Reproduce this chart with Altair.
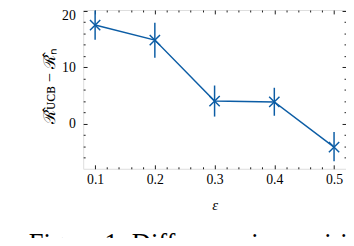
import altair as alt
import pandas as pd

# data
eps = [0.1, 0.2, 0.3, 0.4, 0.5]
diff_mean = [17.5, 14.85, 4.05, 3.9, -4.1]
diff_lo = [14.9, 11.7, 1.3, 1.45, -6.6]
diff_hi = [20.1, 17.9, 6.8, 6.4, -1.45]

x_major = [0.1, 0.2, 0.3, 0.4, 0.5]
x_minor = [0.12, 0.14, 0.16, 0.18, 0.22, 0.24, 0.26, 0.28,
           0.32, 0.34, 0.36, 0.38, 0.42, 0.44, 0.46, 0.48]
y_major = [0, 10, 20]
y_minor = [-6, -4, -2, 2, 4, 6, 8, 12, 14, 16, 18]

x_domain = [0.08, 0.52]
y_domain = [-7.94, 20.17]

x_title = "ε"
y_title = "ℛ̂ᴜᴄʙ − ℛ̂ₙ"
caption = "Figure 1: Difference in empirical regret"

df = pd.DataFrame({"eps": eps, "mean": diff_mean, "lo": diff_lo, "hi": diff_hi})

BLUE = "#0C5DA5"
FONT = "Liberation Serif"
MAJ = 4
MIN = 2

xs = alt.Scale(domain=x_domain, nice=False, zero=False)
ys = alt.Scale(domain=y_domain, nice=False, zero=False)


def ax(orient, values, size, **kw):
    base = dict(orient=orient, values=values, tickSize=size, offset=-size,
                domain=False, grid=False, tickColor="black", tickWidth=0.9)
    base.update(kw)
    if "labels" not in base:
        base["labels"] = False
    if "title" not in base:
        base["title"] = None
    return alt.Axis(**base)


lab = dict(labels=True, labelFont=FONT, labelFontSize=14, labelColor="black")

line = alt.Chart(df).mark_line(color=BLUE, strokeWidth=1.5).encode(
    x=alt.X("eps:Q", scale=xs, axis=ax("bottom", x_major, MAJ, labelPadding=3.5,
                                         format=".1f", title=x_title,
                                         titleFont=FONT, titleFontSize=15,
                                         titleFontStyle="italic", titleFontWeight="normal",
                                         titleColor="black", titlePadding=12, **lab)),
    y=alt.Y("mean:Q", scale=ys, axis=ax("left", y_major, MAJ, labelPadding=8,
                                          labelFlush=5, labelFlushOffset=2.5,
                                          title=y_title, titleFont=FONT, titleFontSize=16.5,
                                          titleFontWeight="normal", titleColor="black",
                                          titleAngle=270, titleBaseline="bottom",
                                          titleAlign="center", titleX=-30.5, titleY=77,
                                          **lab)),
)

bars = alt.Chart(df).mark_rule(color=BLUE, strokeWidth=1.5).encode(
    x=alt.X("eps:Q", scale=xs, axis=ax("top", x_major, MAJ)),
    y=alt.Y("lo:Q", scale=ys, axis=ax("right", y_major, MAJ)),
    y2="hi:Q",
)

marks = alt.Chart(df).mark_point(shape="M-1,-1L1,1M-1,1L1,-1", size=110, filled=False,
                                 strokeWidth=1.5, color=BLUE, opacity=1).encode(
    x=alt.X("eps:Q", scale=xs, axis=ax("bottom", x_minor, MIN)),
    y=alt.Y("mean:Q", scale=ys, axis=ax("left", y_minor, MIN)),
)

ghost = alt.Chart(df).mark_point(opacity=0).encode(
    x=alt.X("eps:Q", scale=xs, axis=ax("top", x_minor, MIN)),
    y=alt.Y("mean:Q", scale=ys, axis=ax("right", y_minor, MIN)),
)

chart = alt.layer(line, bars, marks, ghost).resolve_axis(
    x="independent", y="independent"
).properties(
    width=267.5,
    height=161.6,
    autosize=alt.AutoSizeParams(type="none"),
    padding={"left": 76.5, "top": 0, "right": 0, "bottom": 68},
    title=alt.TitleParams(text=caption, orient="bottom", anchor="start", frame="group",
                          offset=19, dx=-55.5, font=FONT, fontSize=27,
                          fontWeight="normal", color="black", baseline="top"),
).configure_view(stroke="black", strokeWidth=1).configure(background="white")

chart.save("out.html", embed_options={"renderer": "svg", "actions": False})
